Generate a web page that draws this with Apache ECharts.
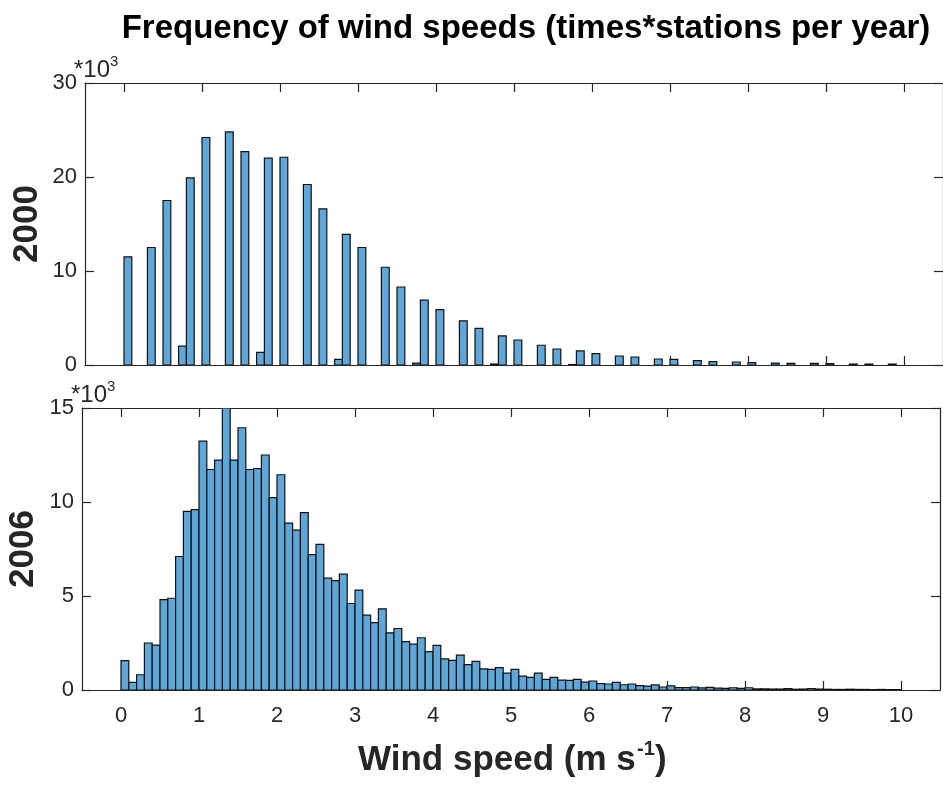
<!DOCTYPE html>
<html>
<head>
<meta charset="utf-8">
<script src="https://cdn.jsdelivr.net/npm/echarts@6/dist/echarts.min.js"></script>
<style>
  html, body { margin: 0; padding: 0; background: #fff; }
  #chart { width: 943px; height: 785px; }
</style>
</head>
<body>
<div id="chart"></div>
<script>
// ---------- data (counts in thousands) ----------
const binWidth = 0.1;
const xTickValues = [0, 1, 2, 3, 4, 5, 6, 7, 8, 9, 10];

// 2000: left edge of each non-empty bin (m/s) and its count (x1000)
const binStart2000 = [0.0, 0.3, 0.5, 0.7, 0.8, 1.0, 1.3, 1.5, 1.7, 1.8, 2.0, 2.3, 2.5, 2.7, 2.8, 3.0,
  3.3, 3.5, 3.7, 3.8, 4.0, 4.3, 4.5, 4.7, 4.8, 5.0, 5.3, 5.5, 5.7, 5.8, 6.0, 6.3, 6.5, 6.8, 7.0,
  7.3, 7.5, 7.8, 8.0, 8.3, 8.5, 8.8, 9.0, 9.3, 9.5, 9.8];
const counts2000 = [11.5, 12.5, 17.5, 2.0, 19.9, 24.2, 24.8, 22.7, 1.35, 22.0, 22.1, 19.2, 16.6, 0.6, 13.9, 12.5,
  10.4, 8.3, 0.2, 6.9, 5.9, 4.7, 3.9, 0.1, 3.1, 2.66, 2.1, 1.7, 0.05, 1.5, 1.2, 0.96, 0.85, 0.64, 0.6,
  0.46, 0.36, 0.32, 0.25, 0.21, 0.18, 0.18, 0.14, 0.1, 0.1, 0.1];

// 2006: counts (x1000) for consecutive bins 0-0.1, 0.1-0.2, ... 9.9-10
const counts2006 = [1.56, 0.41, 0.81, 2.50, 2.39, 4.81, 4.88, 7.10, 9.50, 9.59,
  13.24, 11.73, 12.23, 15.0, 12.23, 13.95, 11.73, 11.77, 12.50, 10.23,
  11.45, 8.88, 8.50, 9.43, 7.20, 7.75, 5.95, 5.82, 6.16, 4.60,
  5.31, 3.98, 3.58, 4.32, 3.04, 3.27, 2.57, 2.44, 2.78, 2.04,
  2.37, 1.66, 1.58, 1.86, 1.35, 1.52, 1.12, 1.10, 1.19, 0.90,
  1.10, 0.74, 0.67, 0.90, 0.57, 0.67, 0.53, 0.51, 0.57, 0.42,
  0.48, 0.34, 0.32, 0.41, 0.28, 0.32, 0.23, 0.21, 0.27, 0.16,
  0.22, 0.13, 0.13, 0.16, 0.11, 0.14, 0.10, 0.09, 0.12, 0.09,
  0.12, 0.06, 0.06, 0.05, 0.05, 0.07, 0.04, 0.05, 0.08, 0.05,
  0.04, 0.03, 0.03, 0.04, 0.03, 0.03, 0.02, 0.03, 0.02, 0.02];
const binStart2006 = counts2006.map((_, i) => i * binWidth);

// ---------- chart ----------
const FONT = '"Liberation Sans", Arial, Helvetica, sans-serif';
const AX = '#262626';
const FACE = '#5FA7D8';
const EDGE = '#111111';
const TICKFS = 22;

const data2000 = binStart2000.map((s, i) => [s, s + binWidth, counts2000[i]]);
const data2006 = binStart2006.map((s, i) => [s, s + binWidth, counts2006[i]]);

function renderBar(params, api) {
  const p0 = api.coord([api.value(0), api.value(2)]);
  const p1 = api.coord([api.value(1), 0]);
  return {
    type: 'rect',
    shape: { x: p0[0], y: p0[1], width: p1[0] - p0[0], height: p1[1] - p0[1] },
    style: { fill: FACE, stroke: EDGE, lineWidth: 1.2 }
  };
}

function xAxisDef(gridIndex, position, showLabels) {
  return {
    type: 'value', gridIndex, position, min: -0.5, max: 10.5,
    axisLine: { show: true, onZero: false, lineStyle: { color: AX, width: 1.2 } },
    axisTick: { show: true, inside: true, length: 9, customValues: xTickValues, lineStyle: { color: AX, width: 1.2 } },
    axisLabel: { show: showLabels, customValues: xTickValues, color: AX, fontFamily: FONT, fontSize: TICKFS, margin: 15 },
    splitLine: { show: false }
  };
}
function yAxisDef(gridIndex, position, max, interval, showLabels) {
  return {
    type: 'value', gridIndex, position, min: 0, max, interval,
    axisLine: { show: true, onZero: false, lineStyle: { color: AX, width: 1.2 } },
    axisTick: { show: true, inside: true, length: 9, lineStyle: { color: AX, width: 1.2 } },
    axisLabel: { show: showLabels, color: AX, fontFamily: FONT, fontSize: TICKFS, margin: 8, padding: [4, 0, 0, 0] },
    splitLine: { show: false }
  };
}

const chart = echarts.init(document.getElementById('chart'), null, { renderer: 'canvas' });
chart.setOption({
  animation: false,
  backgroundColor: '#ffffff',
  title: {
    text: 'Frequency of wind speeds (times*stations per year)',
    left: 521, top: 7, textAlign: 'center',
    textStyle: { fontFamily: FONT, fontSize: 33, fontWeight: 'bold', color: '#000' }
  },
  grid: [
    { left: 85, top: 83, width: 858, height: 282 },
    { left: 82, top: 408, width: 858, height: 282 }
  ],
  xAxis: [
    xAxisDef(0, 'bottom', false),
    xAxisDef(0, 'top', false),
    xAxisDef(1, 'bottom', true),
    xAxisDef(1, 'top', false)
  ],
  yAxis: [
    yAxisDef(0, 'left', 30, 10, true),
    yAxisDef(0, 'right', 30, 10, false),
    yAxisDef(1, 'left', 15, 5, true),
    yAxisDef(1, 'right', 15, 5, false)
  ],
  series: [
    { type: 'custom', xAxisIndex: 0, yAxisIndex: 0, data: data2000, renderItem: renderBar,
      encode: { x: [0, 1], y: 2 }, clip: true },
    { type: 'custom', xAxisIndex: 2, yAxisIndex: 2, data: data2006, renderItem: renderBar,
      encode: { x: [0, 1], y: 2 }, clip: true }
  ],
  graphic: [
    { type: 'text', x: 74, y: 70, style: { text: '*10', font: '24px ' + FONT, fill: AX, align: 'left', verticalAlign: 'middle' } },
    { type: 'text', x: 110, y: 62, style: { text: '3', font: '15px ' + FONT, fill: AX, align: 'left', verticalAlign: 'middle' } },
    { type: 'text', x: 71, y: 395, style: { text: '*10', font: '24px ' + FONT, fill: AX, align: 'left', verticalAlign: 'middle' } },
    { type: 'text', x: 107, y: 387, style: { text: '3', font: '15px ' + FONT, fill: AX, align: 'left', verticalAlign: 'middle' } },
    { type: 'text', x: 27, y: 224, rotation: Math.PI / 2,
      style: { text: '2000', font: 'bold 35px ' + FONT, fill: AX, align: 'center', verticalAlign: 'middle' } },
    { type: 'text', x: 23, y: 549, rotation: Math.PI / 2,
      style: { text: '2006', font: 'bold 35px ' + FONT, fill: AX, align: 'center', verticalAlign: 'middle' } },
    { type: 'text', x: 358, y: 760,
      style: { text: 'Wind speed (m s', font: 'bold 35px ' + FONT, fill: AX, align: 'left', verticalAlign: 'middle' } },
    { type: 'text', x: 637, y: 749,
      style: { text: '-1', font: 'bold 20px ' + FONT, fill: AX, align: 'left', verticalAlign: 'middle' } },
    { type: 'text', x: 655, y: 760,
      style: { text: ')', font: 'bold 35px ' + FONT, fill: AX, align: 'left', verticalAlign: 'middle' } }
  ]
});
</script>
</body>
</html>
